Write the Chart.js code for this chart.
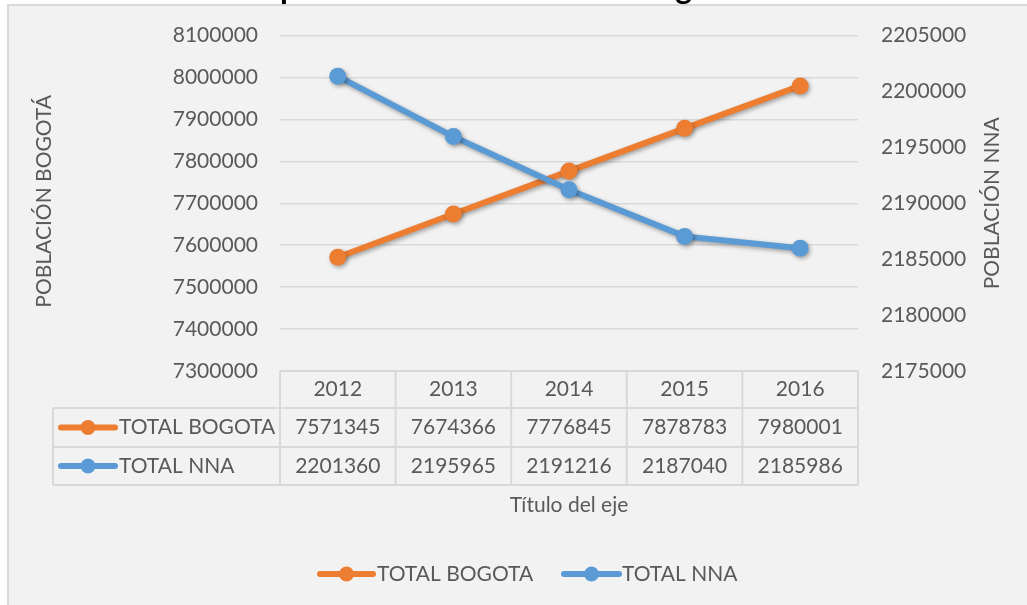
<!DOCTYPE html>
<html>
<head>
<meta charset="utf-8">
<script src="https://cdn.jsdelivr.net/npm/chart.js@4.4.1/dist/chart.umd.min.js"></script>
<style>
html,body{margin:0;padding:0;background:#fff;}
</style>
</head>
<body>
<canvas id="mainChart" width="1027" height="605"></canvas>
<script>
// datos
const years=['2012','2013','2014','2015','2016'];
const totalBogota=[7571345,7674366,7776845,7878783,7980001];
const totalNNA=[2201360,2195965,2191216,2187040,2185986];
const bogotaAxis=[7300000,8100000,100000]; // min, max, paso
const nnaAxis=[2175000,2205000,5000];
const seriesNames=['TOTAL BOGOTA','TOTAL NNA'];

const textColor='#595959';
const gridColor='#d9d9d9';
Chart.defaults.font.family='Lato';
Chart.defaults.font.size=21;
Chart.defaults.color=textColor;

function drawIcon(ctx,x1,x2,y,color){
    ctx.save();
    ctx.strokeStyle=color;
    ctx.fillStyle=color;
    ctx.lineWidth=6;
    ctx.lineCap='round';
    ctx.beginPath();
    ctx.moveTo(x1,y);
    ctx.lineTo(x2,y);
    ctx.stroke();
    ctx.beginPath();
    ctx.arc((x1+x2)/2,y,7.5,0,Math.PI*2);
    ctx.fill();
    ctx.restore();
}

const excelBits={
    id:'excelBits',
    beforeDraw(chart){
        const ctx=chart.ctx;
        ctx.save();
        ctx.fillStyle='#fff';
        ctx.fillRect(0,0,chart.width,chart.height);
        // titulo (cortado arriba)
        ctx.fillStyle='#000';
        ctx.font='bold 32px Lato';
        ctx.textAlign='left';
        ctx.textBaseline='alphabetic';
        ctx.fillText('Comportamiento Poblacional Bogotá',214,-1.5);
        ctx.fillStyle='#f2f2f2';
        ctx.fillRect(8,5,chart.width,chart.height);
        ctx.strokeStyle=gridColor;
        ctx.lineWidth=2;
        ctx.beginPath();
        ctx.moveTo(8,chart.height);
        ctx.lineTo(8,5);
        ctx.lineTo(chart.width,5);
        ctx.stroke();
        ctx.restore();
    },
    beforeDatasetsDraw(chart){
        const ctx=chart.ctx;
        ctx.save();
        ctx.shadowColor='rgba(0,0,0,0.35)';
        ctx.shadowBlur=4;
        ctx.shadowOffsetX=1.5;
        ctx.shadowOffsetY=2;
    },
    afterDatasetsDraw(chart){
        chart.ctx.restore();
    },
    afterDraw(chart){
        const ctx=chart.ctx;
        const area=chart.chartArea;
        const x=chart.scales.x;
        const n=years.length;
        const cw=(area.right-area.left)/n;
        const rows=[area.bottom,408,447,485];
        const tableLeft=53;
        ctx.save();
        // tabla de datos
        ctx.strokeStyle=gridColor;
        ctx.lineWidth=2;
        ctx.beginPath();
        ctx.moveTo(area.left,rows[0]);ctx.lineTo(area.right,rows[0]);
        for(let r=1;r<rows.length;r++){
            ctx.moveTo(tableLeft,rows[r]);ctx.lineTo(area.right,rows[r]);
        }
        ctx.moveTo(tableLeft,rows[1]);ctx.lineTo(tableLeft,rows[3]);
        for(let i=0;i<=n;i++){
            const px=area.left+i*cw;
            ctx.moveTo(px,rows[0]);ctx.lineTo(px,rows[3]);
        }
        ctx.stroke();

        ctx.fillStyle=textColor;
        ctx.font='21px Lato';
        ctx.textBaseline='middle';
        ctx.textAlign='center';
        const tableData=[years,totalBogota,totalNNA];
        for(let r=0;r<3;r++){
            const cy=(rows[r]+rows[r+1])/2;
            for(let i=0;i<n;i++){
                ctx.fillText(String(tableData[r][i]),x.getPixelForValue(i),cy);
            }
        }
        chart.data.datasets.forEach((ds,k)=>{
            const cy=(rows[k+1]+rows[k+2])/2;
            drawIcon(ctx,61,115,cy,ds.borderColor);
            ctx.fillStyle=textColor;
            ctx.textAlign='left';
            ctx.fillText(ds.label,119,cy);
        });

        // titulos de ejes
        ctx.textAlign='center';
        ctx.fillText('Título del eje',(area.left+area.right)/2,505);
        const midY=(area.top+area.bottom)/2;
        ctx.textBaseline='alphabetic';
        ctx.save();
        ctx.translate(51,midY-2);
        ctx.rotate(-Math.PI/2);
        ctx.fillText('POBLACIÓN BOGOTÁ',0,0);
        ctx.restore();
        ctx.save();
        ctx.translate(998.5,midY);
        ctx.rotate(-Math.PI/2);
        ctx.fillText('POBLACIÓN NNA',0,0);
        ctx.restore();

        // leyenda
        ctx.textBaseline='middle';
        ctx.textAlign='left';
        const legendX=[[320,373,377],[564,619,622]];
        chart.data.datasets.forEach((ds,k)=>{
            const p=legendX[k];
            drawIcon(ctx,p[0],p[1],574,ds.borderColor);
            ctx.fillStyle=textColor;
            ctx.fillText(ds.label,p[2],574);
        });
        ctx.restore();
    }
};

const ctx=document.getElementById('mainChart').getContext('2d');
window.myChart=new Chart(ctx,{
    type:'line',
    data:{
        labels:years,
        datasets:[{
            label:seriesNames[0],
            data:totalBogota,
            yAxisID:'y',
            borderColor:'#ED7D31',
            backgroundColor:'#ED7D31',
            borderWidth:6,
            pointRadius:8.5,
            pointBorderWidth:0,
            pointBackgroundColor:'#ED7D31',
            order:2
        },{
            label:seriesNames[1],
            data:totalNNA,
            yAxisID:'y2',
            borderColor:'#5B9BD5',
            backgroundColor:'#5B9BD5',
            borderWidth:6,
            pointRadius:8.5,
            pointBorderWidth:0,
            pointBackgroundColor:'#5B9BD5',
            order:1
        }]
    },
    options:{
        responsive:false,
        animation:false,
        layout:{padding:{left:0,right:0,top:34,bottom:234}},
        plugins:{legend:{display:false},title:{display:false},tooltip:{enabled:false}},
        scales:{
            x:{display:false,offset:true},
            y:{
                position:'left',
                min:bogotaAxis[0],max:bogotaAxis[1],
                afterFit(s){s.width=280;},
                ticks:{stepSize:bogotaAxis[2],padding:22,callback:v=>String(v)},
                grid:{color:gridColor,lineWidth:1.5,drawTicks:false},
                border:{display:false}
            },
            y2:{
                position:'right',
                min:nnaAxis[0],max:nnaAxis[1],
                afterFit(s){s.width=169;},
                ticks:{stepSize:nnaAxis[2],padding:23,callback:v=>String(v)},
                grid:{display:false,drawTicks:false},
                border:{display:false}
            }
        }
    },
    plugins:[excelBits]
});
</script>
</body>
</html>
